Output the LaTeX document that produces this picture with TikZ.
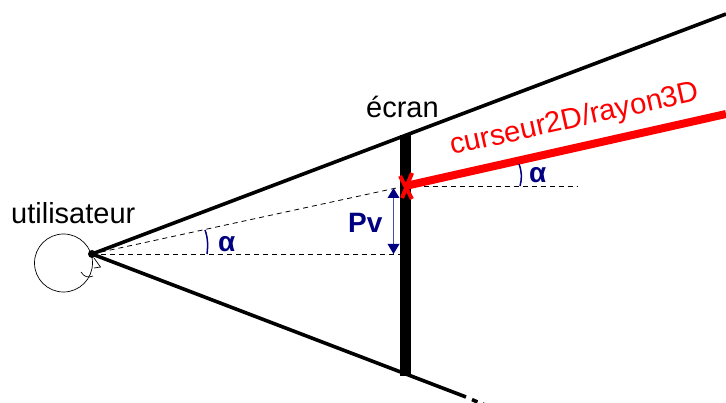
\documentclass[tikz,border=0pt]{standalone}
\usepackage{fontspec}
\setmainfont{Liberation Sans}
\definecolor{navyb}{RGB}{0,0,128}
\usetikzlibrary{arrows.meta}
\tikzset{
 x=1pt,y=-1pt,
 ray/.style={draw=black,line width=3.6pt},
 guide/.style={draw=black,line width=0.8pt,dash pattern=on 5pt off 4pt},
 anglemark/.style={draw=navyb,line width=1.5pt},
 lab/.style={inner sep=0pt,font=\fontsize{29}{29}\selectfont},
 bluelab/.style={inner sep=0pt,text=navyb,font=\fontsize{28}{28}\selectfont\bfseries},
}
\begin{document}
\begin{tikzpicture}
\useasboundingbox (0,0) rectangle (726,403);
\coordinate (eye) at (92,254);
\coordinate (rayend) at (726,14);
\coordinate (raylow) at (466,397);
\coordinate (lowdasha) at (472,399.6);
\coordinate (lowdashb) at (477.5,402);
\coordinate (lowdashc) at (482.5,404);
\coordinate (lowdashd) at (485,405);
\coordinate (scrtop) at (405.5,135);
\coordinate (scrbot) at (405.5,376);
\coordinate (hit) at (405.5,186);
\coordinate (hitfoot) at (405.5,254);
\coordinate (guideend) at (577,186);
\coordinate (redend) at (726,114);
\coordinate (ptop) at (393.5,188);
\coordinate (pbot) at (393.5,254);
% eye
\draw[line width=0.7pt] (63.5,263) circle (29);
\draw[line width=0.7pt] (81,272) .. controls (84,277) and (88,278) .. (93,276);
\draw[line width=0.7pt] (94,258) -- (100.5,267) -- (94,268);
% guides
\draw[guide] (eye) -- (hitfoot);
\draw[guide] (eye) -- (hit);
\draw[guide] (hit) -- (guideend);
% rays
\draw[ray] (eye) -- (rayend);
\draw[ray] (eye) -- (raylow);
\draw[ray] (lowdasha) -- (lowdashb);
\draw[ray] (lowdashc) -- (lowdashd);
\fill (eye) circle (4);
% screen
\draw[line width=11pt] (scrtop) -- (scrbot);
% Pv arrow
\draw[draw=navyb!70,line width=1pt] (ptop) -- (pbot);
\fill[navyb] (ptop) -- ++(-6,10) -- ++(12,0) -- cycle;
\fill[navyb] (pbot) -- ++(-6,-10) -- ++(12,0) -- cycle;
% red
\draw[red,line width=8pt] (hit) -- (redend);
\draw[red,line width=4pt] (400,176) -- (412,199);
\draw[red,line width=4pt] (412,173) -- (402,198);
% angle marks
\draw[anglemark] (205,230) .. controls (208,238) and (208,246) .. (207,254);
\draw[anglemark] (519,164) .. controls (522,172) and (522,179) .. (520,186);
% labels
\node[lab,anchor=base west] (user) at (11,224) {utilisateur};
\node[lab,anchor=base west] (ecran) at (366,118) {écran};
\node[text=red,inner sep=0pt,font=\fontsize{29.3}{29}\selectfont,anchor=base,rotate=12.5] (cur) at (576.5,127.5) {curseur2D/rayon3D};
\node[bluelab,anchor=base west] (a1) at (218,252) {α};
\node[bluelab,anchor=base west] (a2) at (529,183) {α};
\node[bluelab,anchor=base west] (pv) at (348,233) {Pv};
\end{tikzpicture}
\end{document}
